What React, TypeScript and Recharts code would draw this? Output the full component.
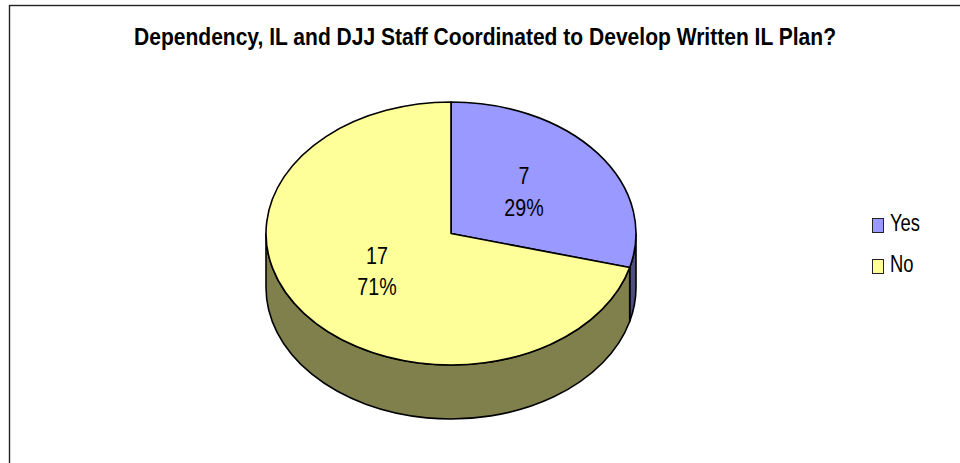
import { Legend, Pie, PieChart, Cell } from "recharts";

const categories = ["Yes", "No"];
const counts = [7, 17];
const percents = ["29%", "71%"];
const topColors = ["#9999FF", "#FFFF99"];
const wallColors = ["#4D4D80", "#80804D"];

const chartData = categories.map((name, i) => ({ name, value: counts[i], label: percents[i] }));

const FONT = '"Liberation Sans", Arial, sans-serif';
const RX = 185;
const SQUASH = 131.5 / 185;
const DEPTH = 54;
const CX = 451;
const CY = 233.5;
const EDGE = 1.6;
// where the data labels sit, as a share of the ellipse radii
const LABEL_POS = [
  [0.4975, 0.531],
  [0.504, 0.457],
];

const toRad = (deg: number) => (deg * Math.PI) / 180;
const px = (cx: number, r: number, a: number) => cx + r * Math.cos(toRad(a));
const py = (cy: number, r: number, a: number) => cy - r * SQUASH * Math.sin(toRad(a));

function TopSlice(props: any) {
  const { cx, cy, outerRadius: r, startAngle, endAngle, fill } = props;
  const large = Math.abs(startAngle - endAngle) > 180 ? 1 : 0;
  const d = `M${cx},${cy} L${px(cx, r, startAngle)},${py(cy, r, startAngle)} A${r},${r * SQUASH} 0 ${large} 1 ${px(cx, r, endAngle)},${py(cy, r, endAngle)} Z`;
  return <path d={d} fill={fill} stroke="#000" strokeWidth={EDGE} strokeLinejoin="round" />;
}

// side of the pie: only the part of a slice facing the viewer is visible
function WallSlice(props: any) {
  const { cx, cy, outerRadius: r, startAngle, endAngle, fill } = props;
  const from = Math.min(startAngle, 0);
  const to = Math.max(endAngle, -180);
  if (from <= to) return <g />;
  const large = from - to > 180 ? 1 : 0;
  const d =
    `M${px(cx, r, from)},${py(cy, r, from)} ` +
    `A${r},${r * SQUASH} 0 ${large} 1 ${px(cx, r, to)},${py(cy, r, to)} ` +
    `L${px(cx, r, to)},${py(cy, r, to) + DEPTH} ` +
    `A${r},${r * SQUASH} 0 ${large} 0 ${px(cx, r, from)},${py(cy, r, from) + DEPTH} Z`;
  return <path d={d} fill={fill} stroke="#000" strokeWidth={EDGE} strokeLinejoin="round" />;
}

function SliceLabel(props: any) {
  const { cx, cy, outerRadius: r, midAngle, index, value, payload } = props;
  const [fx, fy] = LABEL_POS[index];
  const x = cx + r * fx * Math.cos(toRad(midAngle));
  const y = cy - r * SQUASH * fy * Math.sin(toRad(midAngle));
  return (
    <g transform={`translate(${x} ${y}) scale(0.82 1)`}>
      <text textAnchor="middle" fontFamily={FONT} fontSize={24} fill="#000">
        <tspan x={0} y={-6.5}>{value}</tspan>
        <tspan x={0} y={25}>{payload.label}</tspan>
      </text>
    </g>
  );
}

function LegendBox() {
  return (
    <div style={{ fontFamily: FONT, fontSize: 23, color: "#000", lineHeight: "41px" }}>
      {categories.map((name, i) => (
        <div key={name} style={{ display: "flex", alignItems: "center", height: 41 }}>
          <span
            style={{
              boxSizing: "border-box",
              width: 12,
              height: 15,
              marginRight: 6,
              background: topColors[i],
              border: "1.5px solid #222",
            }}
          />
          <span
            style={{
              display: "inline-block",
              transform: "translateY(-2px) scaleX(0.8)",
              transformOrigin: "left",
            }}
          >
            {name}
          </span>
        </div>
      ))}
    </div>
  );
}

export default function App() {
  return (
    <div style={{ position: "absolute", left: 0, top: 0, width: 960, height: 463, background: "#fff" }}>
      <PieChart width={960} height={463} margin={{ top: 0, right: 0, bottom: 0, left: 0 }}>
        <rect x={9.5} y={5.5} width={960} height={470} fill="none" stroke="#222" strokeWidth={1.4} />
        <text
          x={485}
          y={45}
          textAnchor="middle"
          fontFamily={FONT}
          fontWeight="bold"
          fontSize={24}
          textLength={702}
          lengthAdjust="spacingAndGlyphs"
          fill="#000"
        >
          Dependency, IL and DJJ Staff Coordinated to Develop Written IL Plan?
        </text>
        <Pie
          data={chartData}
          dataKey="value"
          cx={CX}
          cy={CY}
          outerRadius={RX}
          startAngle={90}
          endAngle={-270}
          paddingAngle={0}
          stroke="none"
          legendType="none"
          shape={WallSlice}
          isAnimationActive={false}
        >
          {chartData.map((d, i) => (
            <Cell key={d.name} fill={wallColors[i]} />
          ))}
        </Pie>
        <Pie
          data={chartData}
          dataKey="value"
          cx={CX}
          cy={CY}
          outerRadius={RX}
          startAngle={90}
          endAngle={-270}
          paddingAngle={0}
          stroke="none"
          shape={TopSlice}
          label={SliceLabel}
          labelLine={false}
          isAnimationActive={false}
        >
          {chartData.map((d, i) => (
            <Cell key={d.name} fill={topColors[i]} />
          ))}
        </Pie>
        <Legend
          layout="vertical"
          align="right"
          verticalAlign="top"
          content={LegendBox}
          wrapperStyle={{ left: 872, top: 205, width: 70 }}
        />
      </PieChart>
    </div>
  );
}
